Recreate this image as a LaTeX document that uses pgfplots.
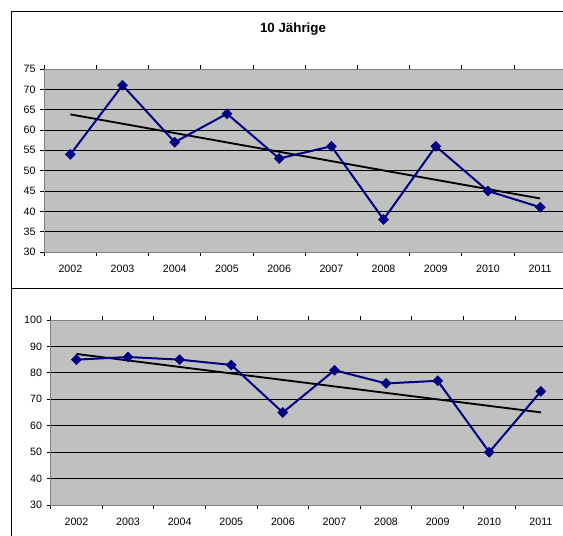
\documentclass[border=0pt]{standalone}
\usepackage{fontspec}
\setmainfont{Liberation Sans}
\usepackage{pgfplots}
\pgfplotsset{compat=1.18}
\definecolor{plotgray}{HTML}{C0C0C0}
\definecolor{bordergray}{HTML}{808080}
\definecolor{navy}{HTML}{000080}
\pgfplotsset{excel/.style={
  scale only axis,
  xmin=-0.5, xmax=9.5,
  xtick={-0.5,0.5,...,9.5}, xticklabels={,,,,,,,,,,,},
  extra x ticks={0,1,2,3,4,5,6,7,8,9},
  extra x tick labels={2002,2003,2004,2005,2006,2007,2008,2009,2010,2011},
  extra x tick style={major tick length=0pt, grid=none},
  tick align=outside, major tick length=3pt,
  tick style={black, line width=0.6pt},
  ymajorgrids, major grid style={black, line width=0.6pt},
  axis line style={bordergray, line width=0.6pt},
  axis background/.style={fill=plotgray},
  ticklabel style={font=\fontsize{8}{9}\selectfont, text=black},
  /pgf/number format/assume math mode=true,
  xticklabel style={yshift=-6pt},
  clip=false,
}}
\begin{document}
\begin{tikzpicture}
\useasboundingbox (0,0) rectangle (422.25pt,401.25pt);
\clip (0,0) rectangle (422.25pt,401.25pt);
% frames
\draw[black, line width=0.75pt] (8.25pt,-5pt) -- (8.25pt,392.25pt) -- (430pt,392.25pt);
\draw[black, line width=0.75pt] (8.25pt,184.5pt) -- (430pt,184.5pt);
\node[font=\bfseries\fontsize{10}{12}\selectfont] at (219.75pt,379.5pt) {10 Jährige};
% top chart
\begin{axis}[excel, at={(33.2pt,212.25pt)}, anchor=south west,
  width=391.5pt, height=137.25pt,
  ymin=30, ymax=75, ytick={30,35,...,75}]
\addplot[black, line width=1.4pt, forget plot] coordinates {(0,63.84) (9,43.16)};
\addplot[navy, line width=1.5pt, mark=square*, mark size=2.6pt,
  mark options={rotate=45, fill=navy, draw=navy, line width=0.5pt}]
  coordinates {(0,54) (1,71) (2,57) (3,64) (4,53) (5,56) (6,38) (7,56) (8,45) (9,41)};
\end{axis}
% bottom chart
\begin{axis}[excel, at={(38.0pt,22.5pt)}, anchor=south west,
  width=387pt, height=138.75pt,
  ymin=30, ymax=100, ytick={30,40,...,100}]
\addplot[black, line width=1.4pt, forget plot] coordinates {(0,87.15) (9,65.05)};
\addplot[navy, line width=1.5pt, mark=square*, mark size=2.6pt,
  mark options={rotate=45, fill=navy, draw=navy, line width=0.5pt}]
  coordinates {(0,85) (1,86) (2,85) (3,83) (4,65) (5,81) (6,76) (7,77) (8,50) (9,73)};
\end{axis}
\end{tikzpicture}
\end{document}
